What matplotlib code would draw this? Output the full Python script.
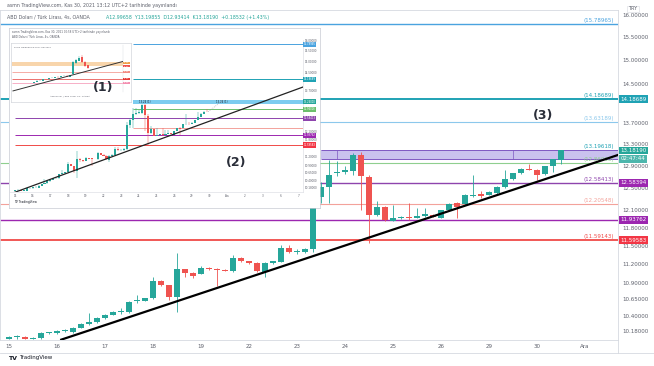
import numpy as np
import matplotlib.pyplot as plt
from matplotlib.lines import Line2D

W, H = 654, 366
UP = "#26a69a"
DOWN = "#ef5350"
GRAY = "#5d606b"
EDGE = "#d6d9e0"

# ----------------------
# MAIN CHART DATA (USD/TRY 4h, 15 - 30 Nov 2021)
# ----------------------
opens = [10.07, 10.09, 10.10, 10.07, 10.08, 10.15, 10.15, 10.18, 10.16, 10.23,
         10.28, 10.31, 10.37, 10.42, 10.46, 10.46, 10.62, 10.63, 10.67, 10.93,
         10.87, 10.69, 11.12, 11.06, 11.05, 11.14, 11.12, 11.11, 11.09, 11.30,
         11.25, 11.22, 11.08, 11.22, 11.24, 11.46, 11.40, 11.40, 11.45, 12.33,
         12.51, 12.76, 12.79, 12.80, 13.10, 12.69, 12.02, 12.16, 11.92, 11.96,
         11.98, 11.97, 12.00, 12.02, 11.97, 12.10, 12.23, 12.21, 12.35, 12.38,
         12.37, 12.40, 12.51, 12.65, 12.76, 12.835, 12.82, 12.74, 12.89, 12.99658]
highs = [10.11, 10.12, 10.11, 10.09, 10.16, 10.17, 10.19, 10.21, 10.24, 10.30,
         10.45, 10.38, 10.43, 10.47, 10.52, 10.62, 10.72, 10.68, 11.00, 10.95,
         10.88, 11.38, 11.13, 11.07, 11.18, 11.15, 11.14, 11.12, 11.35, 11.31,
         11.26, 11.23, 11.23, 11.26, 11.51, 11.51, 11.44, 11.47, 12.45, 12.60,
         13.00, 12.98, 12.90, 13.14, 13.16, 12.73, 12.27, 12.17, 12.20, 12.00,
         12.23, 12.14, 12.14, 12.03, 12.11, 12.22, 12.24, 12.38, 12.73, 12.44,
         12.43, 12.52, 12.82, 12.77, 12.86, 12.93, 12.83, 12.90, 13.03, 13.19855]
lows = [10.06, 10.07, 10.06, 10.06, 10.07, 10.14, 10.14, 10.17, 10.15, 10.22,
        10.27, 10.30, 10.36, 10.41, 10.43, 10.45, 10.60, 10.62, 10.66, 10.86,
        10.64, 10.46, 11.00, 10.99, 11.04, 11.11, 10.86, 11.09, 11.08, 11.24,
        11.21, 11.08, 11.00, 11.21, 11.23, 11.39, 11.37, 11.39, 11.40, 12.23,
        12.23, 12.71, 12.75, 12.73, 12.10, 11.55, 12.00, 11.92, 11.91, 11.95,
        11.93, 11.96, 11.99, 11.98, 11.96, 12.09, 11.97, 12.20, 12.34, 12.31,
        12.36, 12.39, 12.50, 12.64, 12.75, 12.81, 12.64, 12.73, 12.78, 12.93414]
closes = [10.10, 10.095, 10.07, 10.08, 10.15, 10.16, 10.18, 10.19, 10.23, 10.28,
          10.31, 10.37, 10.42, 10.46, 10.465, 10.61, 10.64, 10.67, 10.93, 10.87,
          10.69, 11.12, 11.06, 11.02, 11.14, 11.12, 11.115, 11.10, 11.30, 11.25,
          11.22, 11.09, 11.22, 11.25, 11.46, 11.40, 11.41, 11.45, 12.33, 12.51,
          12.73, 12.79, 12.82, 13.10, 12.71, 12.02, 12.16, 11.93, 11.96, 11.98,
          11.97, 12.00, 12.03, 11.99, 12.10, 12.21, 12.16, 12.37, 12.37, 12.35,
          12.42, 12.51, 12.65, 12.76, 12.83, 12.82, 12.73, 12.89, 13.02, 13.1819]

day_labels = ["15", "16", "17", "18", "19", "22", "23", "24", "25", "26", "29", "30", "Ara"]
bars_per_day = 6

price_ticks = [16.0, 15.5, 15.0, 14.5, 13.7, 13.3, 12.9, 12.5, 12.1, 11.8,
               11.5, 11.2, 10.9, 10.65, 10.4, 10.18]

levels = [15.78965, 14.18689, 13.73189, 12.94016, 12.58413, 12.20548, 11.93762, 11.59583]
level_text = ["(15.78965)", "(14.18689)", "(13.63189)", "(12.86016)", "(12.58413)",
              "(12.20548)", "", "(11.59143)"]
level_colors = ["#4aa3df", "#1fa2b4", "#8cc8ec", "#8fcf8f", "#8e44ad",
                "#f3a29b", "#9c27b0", "#f04a48"]
level_widths = [1.0, 1.4, 0.8, 0.8, 1.0, 0.8, 1.0, 1.3]

band_lo, band_hi = 13.03, 13.19618
band_start = 39
band_marks = [41, 63]

tag_values = [14.18689, 13.18190, 12.58394, 11.93762, 11.59583]
tag_text = ["14.18689", "13.18190", "12.58394", "11.93762", "11.59583"]
tag_colors = ["#1fa2b4", "#26a69a", "#9c27b0", "#9c27b0", "#f23645"]
countdown = "02:47:44"

trend_x = [6.4, 76.2]
trend_y = [10.05, 13.10]

# ----------------------
# INSET (2) DATA - earlier screenshot of the same chart
# ----------------------
inset2_bars = 66
inset2_days = ["15", "16", "17", "18", "19", "22", "23", "24", "25", "26", "29", "30",
               "Ara", "2", "3", "6", "7"]
inset2_ticks = [16.0, 15.5, 15.0, 14.5, 13.7, 12.1, 11.8, 11.2, 10.9, 10.65, 10.4, 10.18]
inset2_levels = [15.78965, 14.18689, 12.94016, 12.58413, 12.20548, 11.93762, 11.59583]
inset2_colors = ["#4aa3df", "#1fa2b4", "#6cbf6c", "#8e44ad", "#f3a29b", "#9c27b0", "#f04a48"]
inset2_start = [40, 40, 40, 0, 40, 0, 0]
inset2_band = (13.16, 13.32)
inset2_trend_x = [-0.7, 97.6]
inset2_trend_y = [10.005, 13.85]
inset2_arrow_x = [65.5, 70.5]
inset2_arrow_y = [12.84, 13.30]
inset2_tags = [15.78965, 14.18689, 13.24, 12.94016, 12.58413, 11.93762, 11.59583]
inset2_tag_colors = ["#4aa3df", "#1fa2b4", "#26a69a", "#6cbf6c", "#8e44ad", "#9c27b0", "#f23645"]

# ----------------------
# INSET (1) DATA - older daily chart
# ----------------------
i1_x = list(range(8, 27))
i1_open = [8.24, 8.31, 8.38, 8.40, 8.53, 8.50, 8.60, 8.60, 8.68, 8.67,
           8.75, 8.76, 8.70, 8.89, 9.69, 9.84, 10.13, 9.76, 9.55]
i1_close = [8.31, 8.38, 8.40, 8.50, 8.49, 8.60, 8.61, 8.67, 8.66, 8.75,
            8.76, 8.70, 8.82, 9.76, 9.91, 10.05, 9.76, 9.47, 9.33]
i1_high = [8.34, 8.42, 8.45, 8.53, 8.56, 8.63, 8.66, 8.70, 8.72, 8.78,
           8.80, 8.79, 8.85, 9.80, 9.96, 10.20, 10.25, 9.80, 9.58]
i1_low = [8.20, 8.28, 8.35, 8.37, 8.46, 8.47, 8.57, 8.57, 8.63, 8.64,
          8.72, 8.67, 8.68, 8.86, 9.64, 9.80, 9.72, 9.42, 9.28]
i1_band = (9.47, 9.76)
i1_levels = [9.04, 8.53, 8.24]
i1_colors = ["#f28b82", "#e53935", "#f48fb1"]
i1_trend_x = [1.0, 38.3]
i1_trend_y = [7.66, 9.84]
i1_tags = [9.72, 9.47, 9.04, 8.53, 8.24]
i1_tag_colors = ["#f0a04b", "#ef5350", "#f28b82", "#e53935", "#f48fb1"]


def box(x0, y0, x1, y1):
    return [x0 / W, 1 - y1 / H, (x1 - x0) / W, (y1 - y0) / H]


def ptext(x, y, s, **kw):
    return fig.text(x / W, 1 - y / H, s, **kw)


def candles(ax, x, o, h, l, c, width, lw):
    x, o, h, l, c = map(np.asarray, (x, o, h, l, c))
    col = np.where(c >= o, UP, DOWN)
    ax.vlines(x, l, h, colors=col, lw=lw, zorder=3)
    lo = np.minimum(o, c)
    body = np.maximum(np.abs(c - o), lo * 0.0012)
    ax.bar(x, body, bottom=lo, width=width, color=col, linewidth=0, zorder=3.1)


def tag(ax, y, s, color, fs, dx=2, dy=0, fc=None, tc="white"):
    ax.annotate(s, xy=(1, y), xycoords=("axes fraction", "data"), xytext=(dx, dy),
                textcoords="offset points", ha="left", va="center", fontsize=fs,
                color=tc, bbox=dict(boxstyle="square,pad=0.25", fc=fc or color, ec="none"),
                annotation_clip=False, zorder=6)


fig = plt.figure(figsize=(W / 100, H / 100), dpi=100)
fig.patch.set_facecolor("white")

# ------------------------------------------------------
# MAIN CHART
# ------------------------------------------------------
ax = fig.add_axes(box(0, 10, 618, 340), zorder=0)
ax.set_yscale("log")
xmax = 76.125
ax.set_xlim(-1.125, xmax)
ax.set_ylim(10.05, 16.115)

for lv, col, lw in zip(levels, level_colors, level_widths):
    ax.hlines(lv, -1.125, xmax, colors=col, lw=lw, zorder=2)
for lv, txt, col in zip(levels, level_text, level_colors):
    if txt:
        ax.annotate(txt, xy=(0.993, lv), xycoords=("axes fraction", "data"),
                    xytext=(0, 0.8), textcoords="offset points", ha="right",
                    va="bottom", fontsize=4, color=col)

ax.fill_between([band_start, xmax], band_lo, band_hi, color="#9d8ee0", alpha=0.55,
                lw=0, zorder=1.5)
ax.hlines([band_lo, band_hi], band_start, xmax, colors="#7e57c2", lw=0.7, zorder=1.6)
ax.vlines(band_marks, band_lo, band_hi, colors="#7e57c2", lw=0.5, zorder=1.6)
ax.annotate("(13.19618)", xy=(0.993, band_hi), xycoords=("axes fraction", "data"),
            xytext=(0, 0.8), textcoords="offset points", ha="right", va="bottom",
            fontsize=4, color="#1fa2b4")

candles(ax, np.arange(len(opens)), opens, highs, lows, closes, 0.7, 0.6)
ax.plot(trend_x, trend_y, color="black", lw=1.6, zorder=4, solid_capstyle="butt")

ax.yaxis.tick_right()
ax.set_yticks(price_ticks)
ax.set_yticklabels([f"{v:.5f}" for v in price_ticks])
ax.yaxis.set_minor_locator(plt.NullLocator())
ax.tick_params(axis="y", length=0, labelsize=4, labelcolor=GRAY, pad=3)
ax.set_xticks(np.arange(len(day_labels)) * bars_per_day)
ax.set_xticklabels(day_labels)
ax.tick_params(axis="x", length=0, labelsize=4, labelcolor=GRAY, pad=3)
for s in ax.spines.values():
    s.set_color(EDGE)
    s.set_linewidth(0.6)

for v, s, c in zip(tag_values, tag_text, tag_colors):
    tag(ax, v, s, c, 4)
tag(ax, tag_values[1], countdown, tag_colors[1], 4, dy=-6, fc="#4db6ac")

ptext(633, 9, "TRY", fontsize=3.5, color=GRAY, ha="center", va="center",
      bbox=dict(boxstyle="square,pad=0.2", fc="white", ec=EDGE, lw=0.4))

ptext(7, 5, "asmn TradingView.com, Kas 30, 2021 13:12 UTC+2 tarihinde yayınlandı",
      fontsize=3.4, color=GRAY, va="center")
ptext(7, 17, "ABD Doları / Türk Lirası, 4s, OANDA", fontsize=3.4, color=GRAY, va="center")
ptext(106, 17, "A12.99658  Y13.19855  D12.93414  K13.18190  +0.18532 (+1.43%)",
      fontsize=3.4, color=UP, va="center")

ptext(8, 358, "TV", fontsize=4.5, color="#131722", weight="bold", va="center")
ptext(19, 358, "TradingView", fontsize=4, color="#131722", va="center")

fig.add_artist(Line2D([0, 1], [1 - 353 / H] * 2, color=EDGE, lw=0.6))
fig.add_artist(Line2D([618 / W] * 2, [1 - 340 / H, 1 - 353 / H], color=EDGE, lw=0.6))

# ------------------------------------------------------
# INSET (2)
# ------------------------------------------------------
bg2 = fig.add_axes(box(9, 28, 320, 208), zorder=2)
bg2.set_xticks([])
bg2.set_yticks([])
for s in bg2.spines.values():
    s.set_color("#c8cbd3")
    s.set_linewidth(0.5)

a2 = fig.add_axes(box(9, 40, 303, 192), zorder=3)
a2.set_facecolor("none")
a2.set_yscale("log")
x2max = 97.6
a2.set_xlim(-2.03, x2max)
a2.set_ylim(10.035, 15.86)
for lv, col, st in zip(inset2_levels, inset2_colors, inset2_start):
    a2.hlines(lv, st, x2max, colors=col, lw=0.7, zorder=2)
a2.fill_between([40, x2max], inset2_band[0], inset2_band[1], color="#5bc0eb", alpha=0.8,
                lw=0, zorder=1.5)
a2.text(44, np.sqrt(inset2_band[0] * inset2_band[1]), "13.24 (1)", fontsize=1.8,
        color="#131722", ha="center", va="center")
a2.text(70, np.sqrt(inset2_band[0] * inset2_band[1]), "13.24 (1)", fontsize=1.8,
        color="#131722", ha="center", va="center")
candles(a2, np.arange(inset2_bars), opens[:inset2_bars], highs[:inset2_bars],
        lows[:inset2_bars], closes[:inset2_bars], 0.7, 0.35)
a2.plot(inset2_trend_x, inset2_trend_y, color="#222222", lw=0.9, zorder=4)
a2.plot(inset2_arrow_x, inset2_arrow_y, color="#9598a1", lw=0.5, ls=":", zorder=4)

a2.yaxis.tick_right()
a2.set_yticks(inset2_ticks)
a2.set_yticklabels([f"{v:.5f}" for v in inset2_ticks])
a2.yaxis.set_minor_locator(plt.NullLocator())
a2.tick_params(axis="y", length=0, labelsize=2, labelcolor=GRAY, pad=1.5)
a2.set_xticks(np.arange(len(inset2_days)) * bars_per_day)
a2.set_xticklabels(inset2_days)
a2.tick_params(axis="x", length=0, labelsize=2, labelcolor=GRAY, pad=1.5)
for k, s in a2.spines.items():
    s.set_visible(k in ("right", "bottom"))
    s.set_color(EDGE)
    s.set_linewidth(0.4)
for v, c in zip(inset2_tags, inset2_tag_colors):
    tag(a2, v, f"{v:.5f}", c, 1.8, dx=0.5)

ptext(12, 32, "asmn TradingView.com, Kas 30, 2021 00:58 UTC+2 tarihinde yayınlandı",
      fontsize=2, color=GRAY, va="center", zorder=10)
ptext(12, 37, "ABD Doları / Türk Lirası, 4s, OANDA", fontsize=2, color=GRAY,
      va="center", zorder=10)
ptext(14, 202, "TV TradingView", fontsize=2.2, color="#131722", va="center", zorder=10)

# ------------------------------------------------------
# INSET (1)
# ------------------------------------------------------
bg1 = fig.add_axes(box(11, 43, 131, 102), zorder=4)
bg1.set_xticks([])
bg1.set_yticks([])
for s in bg1.spines.values():
    s.set_color("#c8cbd3")
    s.set_linewidth(0.4)

a1 = fig.add_axes(box(12, 45, 123, 92), zorder=5)
a1.set_facecolor("none")
a1.set_xlim(0.667, 37.67)
a1.set_ylim(7.58, 11.0)
a1.fill_between([0.667, 37.67], i1_band[0], i1_band[1], color="#f6c88f", alpha=0.75,
                lw=0, zorder=1.5)
a1.hlines(i1_levels, 0.667, 37.67, colors=i1_colors, lw=0.5, zorder=2)
candles(a1, i1_x, i1_open, i1_high, i1_low, i1_close, 0.7, 0.3)
a1.plot(i1_trend_x, i1_trend_y, color="#333333", lw=0.7, zorder=4)
a1.set_xticks([])
a1.set_yticks([])
for k, s in a1.spines.items():
    s.set_visible(k == "right")
    s.set_color(EDGE)
    s.set_linewidth(0.3)
for v, c in zip(i1_tags, i1_tag_colors):
    tag(a1, v, f"{v:.2f}  ", c, 1.4, dx=0.4)

ptext(14, 47, "asmn TradingView.com, Eki 2021", fontsize=1.6, color=GRAY,
      va="center", zorder=10)
ptext(50, 96, "ABD Doları / Türk Lirası, 1G, OANDA", fontsize=1.6, color=GRAY,
      va="center", zorder=10)

# ------------------------------------------------------
# ANNOTATION NUMBERS
# ------------------------------------------------------
ptext(103, 88, "(1)", fontsize=9, color="#2a2e39", weight="bold", ha="center",
      va="center", zorder=10)
ptext(236, 162, "(2)", fontsize=9, color="#2a2e39", weight="bold", ha="center",
      va="center", zorder=10)
ptext(543, 115, "(3)", fontsize=9, color="#2a2e39", weight="bold", ha="center",
      va="center", zorder=10)

fig.savefig("out.png", dpi=100, facecolor="white")
